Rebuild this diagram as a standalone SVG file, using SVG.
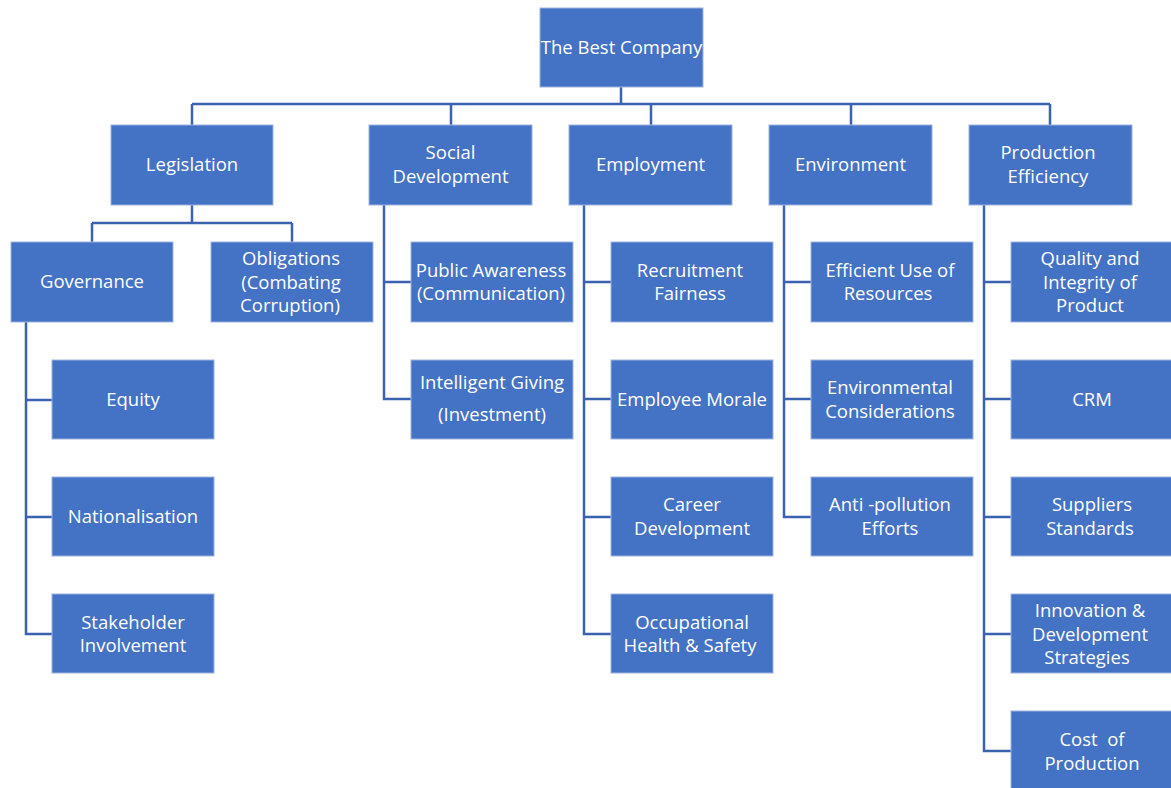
<svg xmlns="http://www.w3.org/2000/svg" width="1171" height="788" viewBox="0 0 1171 788">
<style>
.b{fill:#4472C4;stroke:#9DB4E0;stroke-width:1}
.t{font-family:"Open Sans","Noto Sans","Liberation Sans",sans-serif;font-size:18.5px;fill:#FFFFFF;text-anchor:middle}
.c{fill:none;stroke:#3A62AE;stroke-width:2.5}
</style>
<rect width="1171" height="788" fill="#FFFFFF"/>
<g id="connectors">
<path class="c" d="M621 87V104M192 104H1050M192 104V125M451 104V125M651 104V125M851 104V125M1050 104V125"/>
<path class="c" d="M192 205V223M92 223H292M92 223V242M292 223V242"/>
<path class="c" d="M26 322V634H52M26 400H52M26 517H52"/>
<path class="c" d="M384 205V399H411M384 282H411"/>
<path class="c" d="M584 205V634H611M584 282H611M584 399H611M584 517H611"/>
<path class="c" d="M784 205V517H811M784 282H811M784 399H811"/>
<path class="c" d="M984 205V751H1011M984 282H1011M984 399H1011M984 517H1011M984 634H1011"/>
</g>
<g id="n-root"><rect class="b" x="540" y="8" width="163" height="79"/><text class="t" x="621.5" y="54">The Best Company</text></g>
<g id="n-legislation"><rect class="b" x="111" y="125" width="162" height="80"/><text class="t" x="192" y="171">Legislation</text></g>
<g id="n-social"><rect class="b" x="369" y="125" width="163" height="80"/><text class="t" x="450.5" y="159">Social</text><text class="t" x="450.5" y="183">Development</text></g>
<g id="n-employment"><rect class="b" x="569" y="125" width="163" height="80"/><text class="t" x="650.5" y="171">Employment</text></g>
<g id="n-environment"><rect class="b" x="769" y="125" width="163" height="80"/><text class="t" x="850.5" y="171">Environment</text></g>
<g id="n-production"><rect class="b" x="969" y="125" width="163" height="80"/><text class="t" x="1048" y="159">Production</text><text class="t" x="1048" y="183">Efficiency</text></g>
<g id="n-governance"><rect class="b" x="11" y="242" width="162" height="80"/><text class="t" x="92" y="288">Governance</text></g>
<g id="n-obligations"><rect class="b" x="211" y="242" width="162" height="80"/><text class="t" x="291" y="265">Obligations</text><text class="t" x="291" y="289">(Combating</text><text class="t" x="290" y="312">Corruption)</text></g>
<g id="n-equity"><rect class="b" x="52" y="360" width="162" height="79"/><text class="t" x="133" y="406">Equity</text></g>
<g id="n-nationalisation"><rect class="b" x="52" y="477" width="162" height="79"/><text class="t" x="133" y="523">Nationalisation</text></g>
<g id="n-stakeholder"><rect class="b" x="52" y="594" width="162" height="79"/><text class="t" x="133" y="629">Stakeholder</text><text class="t" x="133" y="652">Involvement</text></g>
<g id="n-public"><rect class="b" x="411" y="242" width="162" height="80"/><text class="t" x="491" y="277">Public Awareness</text><text class="t" x="491" y="300">(Communication)</text></g>
<g id="n-giving"><rect class="b" x="411" y="360" width="162" height="79"/><text class="t" x="492" y="389">Intelligent Giving</text><text class="t" x="492" y="421">(Investment)</text></g>
<g id="n-recruitment"><rect class="b" x="611" y="242" width="162" height="80"/><text class="t" x="690" y="277">Recruitment</text><text class="t" x="690" y="300">Fairness</text></g>
<g id="n-morale"><rect class="b" x="611" y="360" width="162" height="79"/><text class="t" x="692" y="406">Employee Morale</text></g>
<g id="n-career"><rect class="b" x="611" y="477" width="162" height="79"/><text class="t" x="692" y="511">Career</text><text class="t" x="692" y="535">Development</text></g>
<g id="n-ohs"><rect class="b" x="611" y="594" width="162" height="79"/><text class="t" x="692" y="629">Occupational</text><text class="t" x="690" y="652">Health &amp; Safety</text></g>
<g id="n-efficient"><rect class="b" x="811" y="242" width="162" height="80"/><text class="t" x="890" y="277">Efficient Use of</text><text class="t" x="888" y="300">Resources</text></g>
<g id="n-envcons"><rect class="b" x="811" y="360" width="162" height="79"/><text class="t" x="890" y="394">Environmental</text><text class="t" x="890" y="418">Considerations</text></g>
<g id="n-antipollution"><rect class="b" x="811" y="477" width="162" height="79"/><text class="t" x="890" y="511">Anti -pollution</text><text class="t" x="890" y="535">Efforts</text></g>
<g id="n-quality"><rect class="b" x="1011" y="242" width="162" height="80"/><text class="t" x="1090" y="265">Quality and</text><text class="t" x="1090" y="289">Integrity of</text><text class="t" x="1090" y="312">Product</text></g>
<g id="n-crm"><rect class="b" x="1011" y="360" width="162" height="79"/><text class="t" x="1092" y="406">CRM</text></g>
<g id="n-suppliers"><rect class="b" x="1011" y="477" width="162" height="79"/><text class="t" x="1092" y="511">Suppliers</text><text class="t" x="1090" y="535">Standards</text></g>
<g id="n-innovation"><rect class="b" x="1011" y="594" width="162" height="79"/><text class="t" x="1090" y="617">Innovation &amp;</text><text class="t" x="1090" y="641">Development</text><text class="t" x="1087" y="664">Strategies</text></g>
<g id="n-cost"><rect class="b" x="1011" y="711" width="162" height="79"/><text class="t" x="1092" y="746" style="white-space:pre">Cost  of</text><text class="t" x="1092" y="770">Production</text></g>
</svg>
